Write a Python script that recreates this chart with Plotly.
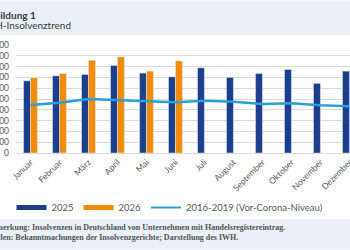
import plotly.graph_objects as go

months = ["Januar", "Februar", "März", "April", "Mai", "Juni", "Juli",
          "August", "September", "Oktober", "November", "Dezember"]
v2025 = [1337, 1429, 1455, 1621, 1479, 1411, 1577, 1400, 1473, 1547, 1289, 1516]
v2026 = [1392, 1473, 1718, 1780, 1516, 1706, None, None, None, None, None, None]
vbase = [890, 932, 1000, 982, 969, 939, 969, 951, 908, 921, 884, 866]
yticks = [0, 200, 400, 600, 800, 1000, 1200, 1400, 1600, 1800, 2000]

W, H = 350, 250
L, T, B = 16, 44.7, 96.7
PW = W - L
PH = H - T - B

C25, C26, CB = "#1c3f8c", "#f08c0a", "#2a9fd8"


def px(x):
    return (x - L) / PW


def py(y):
    return (H - B - y) / PH


fig = go.Figure()
fig.add_trace(go.Bar(x=months, y=v2025, name="2025", marker_color=C25, showlegend=False))
fig.add_trace(go.Bar(x=months, y=v2026, name="2026", marker_color=C26, showlegend=False))
fig.add_trace(go.Scatter(x=months, y=vbase, name="2016-2019 (Vor-Corona-Niveau)",
                         mode="lines", line=dict(color=CB, width=2.5), showlegend=False))
# legend entries (wide bar-like symbols as in the original)
fig.add_trace(go.Scatter(x=[None], y=[None], name="2025", mode="lines",
                         line=dict(color=C25, width=5)))
fig.add_trace(go.Scatter(x=[None], y=[None], name="2026", mode="lines",
                         line=dict(color=C26, width=5)))
fig.add_trace(go.Scatter(x=[None], y=[None], name="2016-2019 (Vor-Corona-Niveau)",
                         mode="lines", line=dict(color=CB, width=2)))

font_sans = "Lato, 'Open Sans', sans-serif"
serif = "'Liberation Serif', serif"
fig.update_layout(
    width=W, height=H,
    margin=dict(l=L, r=0, t=T, b=B, autoexpand=False),
    paper_bgcolor="white", plot_bgcolor="white",
    barmode="group", bargap=0.52, bargroupgap=0,
    font=dict(family=font_sans, color="#595959", size=8),
    showlegend=True,
    legend=dict(orientation="h", x=px(170), y=py(208), xanchor="center", yanchor="middle",
                font=dict(size=9.5, color="#595959", family=font_sans),
                itemwidth=30, tracegroupgap=0, bgcolor="rgba(0,0,0,0)"),
    xaxis=dict(type="category", range=[-0.5, 11.02], tickangle=-45,
               showgrid=False, showline=True, linecolor="#d9d9d9", linewidth=1,
               tickfont=dict(size=8.5, color="#595959"), automargin=False, ticks=""),
    yaxis=dict(range=[0, 2000], tickvals=yticks, showgrid=True, gridcolor="#d9d9d9",
               gridwidth=1, zeroline=False, showline=False, ticks="",
               ticklabelstandoff=6,
               tickfont=dict(size=8.5, color="#595959"), automargin=False),
    shapes=[
        dict(type="rect", xref="paper", yref="paper", x0=px(0), x1=px(W), y0=py(35), y1=py(0),
             fillcolor="#e9f0f8", line=dict(width=0), layer="below"),
        dict(type="rect", xref="paper", yref="paper", x0=px(0), x1=px(W), y0=py(H), y1=py(220),
             fillcolor="#e9f0f8", line=dict(width=0), layer="below"),
    ],
    annotations=[
        dict(text="<b>Abbildung 1</b>", xref="paper", yref="paper", x=px(38), y=py(15),
             xanchor="right", yanchor="middle", showarrow=False,
             font=dict(size=10, color="#3a3a3a", family=font_sans)),
        dict(text="IWH-Insolvenztrend", xref="paper", yref="paper", x=px(73), y=py(25),
             xanchor="right", yanchor="middle", showarrow=False,
             font=dict(size=10, color="#3a3a3a", family=font_sans)),
        dict(text="<b>Anmerkung: Insolvenzen in Deutschland von Unternehmen mit Handelsregistereintrag.</b>",
             xref="paper", yref="paper", x=px(287), y=py(228), xanchor="right", yanchor="middle",
             showarrow=False, font=dict(size=8, color="#555555", family=serif)),
        dict(text="<b>Quellen: Bekanntmachungen der Insolvenzgerichte; Darstellung des IWH.</b>",
             xref="paper", yref="paper", x=px(240), y=py(238), xanchor="right", yanchor="middle",
             showarrow=False, font=dict(size=8, color="#555555", family=serif)),
    ],
)

fig.write_html("out.html")
